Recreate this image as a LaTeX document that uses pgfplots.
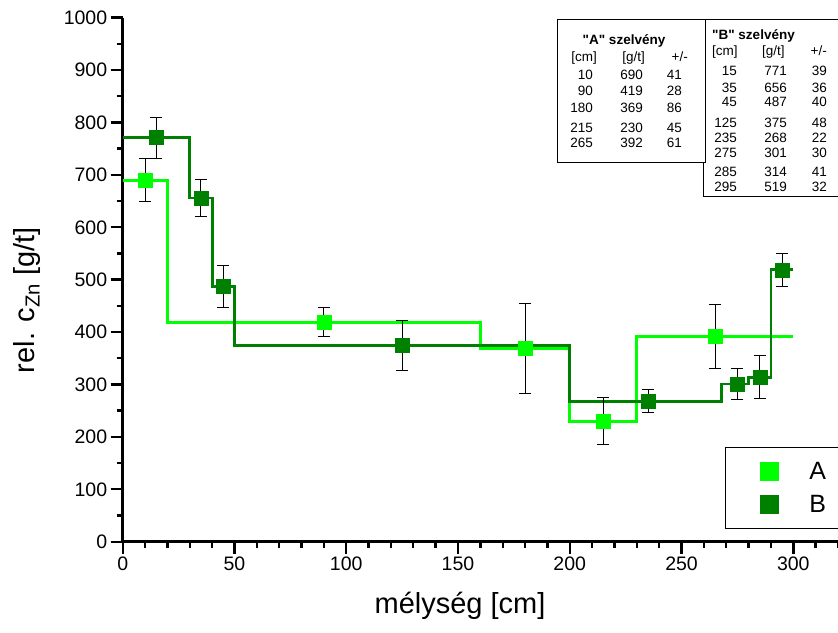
\documentclass[border=0pt]{standalone}
\usepackage{fontspec}
\setmainfont{Liberation Sans}
\usepackage{pgfplots}
\pgfplotsset{compat=1.18}
\definecolor{lightg}{RGB}{0,255,0}
\definecolor{darkg}{RGB}{0,128,0}

\begin{document}
\begin{tikzpicture}
\useasboundingbox (0,0) rectangle (838pt,632pt);
\begin{axis}[
  at={(122.7pt,90.3pt)}, anchor=south west,
  scale only axis, width=715.3pt, height=524pt,
  xmin=0, xmax=320, ymin=0, ymax=1000,
  axis x line*=bottom, axis y line*=left,
  axis line style={line width=2.6pt},
  xtick={0,50,...,300}, minor xtick={10,20,...,320},
  ytick={0,100,...,1000}, minor ytick={50,150,...,950},
  tick align=outside, major tick length=12pt, minor tick length=6pt,
  tick style={line width=2.4pt, black},
  tick label style={font=\fontsize{19.5}{20}\selectfont},
  /pgf/number format/assume math mode=true,
  /pgf/number format/set thousands separator={},
  xlabel={mélység [cm]},
  ylabel={rel. c\textsubscript{Zn} [g/t]},
  label style={font=\fontsize{29}{30}\selectfont},
  xlabel style={at={(axis description cs:0.4716,-0.1227)}, anchor=center},
  ylabel style={at={(axis description cs:-0.134,0.461)}, anchor=center},
  legend style={draw=black, line width=1pt, fill=white,
    at={(0.842,0.1807)}, anchor=north west,
    font=\fontsize{25}{25}\selectfont,
    inner xsep=35pt, inner ysep=13pt, row sep=10pt,
    /tikz/every odd column/.append style={column sep=29pt},
    nodes={inner sep=2pt}},
  legend cell align=left,
]
% step lines
\addplot[forget plot, const plot, lightg, line width=2.8pt]
  coordinates {(0,690) (20,419) (160,369) (200,230) (230,392) (300,392)};
\addplot[forget plot, const plot, darkg, line width=2.8pt]
  coordinates {(0,771) (30,656) (40,487) (50,375) (200,268) (268,301) (280,314) (290,519) (300,519)};
% measured points, A
\addplot[forget plot, only marks, mark=square*, mark size=7pt,
  mark options={fill=lightg, draw=lightg, line width=0.4pt},
  error bars/.cd, y dir=both, y explicit,
  error mark options={rotate=90, black, mark size=6pt, line width=0.9pt},
  error bar style={black, line width=0.9pt}]
  coordinates {(10,690) +- (0,41) (90,419) +- (0,28) (180,369) +- (0,86)
               (215,230) +- (0,45) (265,392) +- (0,61)};
% measured points, B
\addplot[forget plot, only marks, mark=square*, mark size=7pt,
  mark options={fill=darkg, draw=darkg, line width=0.4pt},
  error bars/.cd, y dir=both, y explicit,
  error mark options={rotate=90, black, mark size=6pt, line width=0.9pt},
  error bar style={black, line width=0.9pt}]
  coordinates {(15,771) +- (0,39) (35,656) +- (0,36) (45,487) +- (0,40)
               (125,375) +- (0,48) (235,268) +- (0,22) (275,301) +- (0,30)
               (285,314) +- (0,41) (295,519) +- (0,32)};
\addlegendimage{only marks, mark=square*, mark size=9pt, mark options={fill=lightg, draw=lightg}}
\addlegendentry{A}
\addlegendimage{only marks, mark=square*, mark size=9pt, mark options={fill=darkg, draw=darkg}}
\addlegendentry{B}
\end{axis}

% data tables
\begin{scope}[x=1pt, y=1pt, font=\fontsize{13.5}{14}\selectfont, every node/.style={inner sep=0pt}]
\draw[line width=1pt, fill=white] (703,435) rectangle (850,612);
\node[anchor=base west, font=\fontsize{13.5}{14}\selectfont\bfseries] at (712,592.2) {\textquotedbl B\textquotedbl\ szelvény};
\node[anchor=base west] at (712,576) {[cm]};
\node[anchor=base west] at (762,576) {[g/t]};
\node[anchor=base east] at (827,576) {+/-};
\foreach \c/\g/\e/\y in {15/771/39/556.2, 35/656/36/539.2, 45/487/40/525.2,
    125/375/48/504.2, 235/268/22/489.2, 275/301/30/474.2, 285/314/41/455.2, 295/519/32/440.2} {
  \node[anchor=base east] at (737,\y) {\c};
  \node[anchor=base east] at (787,\y) {\g};
  \node[anchor=base east] at (827,\y) {\e};
}
\draw[line width=1pt, fill=white] (557,469) rectangle (705,612);
\node[anchor=base, font=\fontsize{13.5}{14}\selectfont\bfseries] at (624,587.2) {\textquotedbl A\textquotedbl\ szelvény};
\node[anchor=base east] at (597,570.2) {[cm]};
\node[anchor=base east] at (645,570.2) {[g/t]};
\node[anchor=base east] at (688,570.2) {+/-};
\foreach \c/\g/\e/\y in {10/690/41/552.2, 90/419/28/536.2, 180/369/86/519.9,
    215/230/45/499.9, 265/392/61/484.5} {
  \node[anchor=base east] at (593,\y) {\c};
  \node[anchor=base east] at (643,\y) {\g};
  \node[anchor=base east] at (682,\y) {\e};
}
\end{scope}
\end{tikzpicture}
\end{document}
